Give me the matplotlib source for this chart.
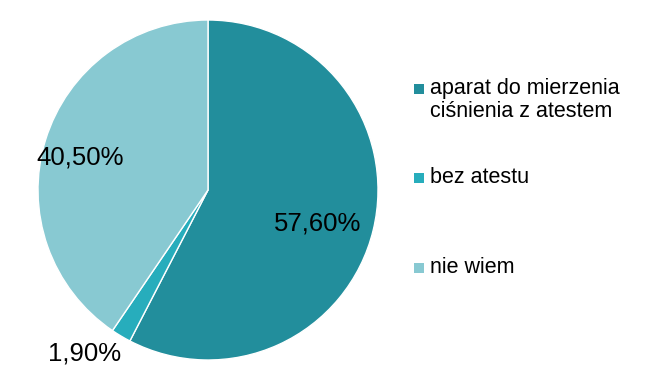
import matplotlib.pyplot as plt
from matplotlib.patches import Rectangle

plt.rcParams['font.family'] = ['Liberation Sans', 'DejaVu Sans']

# data
labels = ['aparat do mierzenia\nciśnienia z atestem', 'bez atestu', 'nie wiem']
values = [57.6, 1.9, 40.5]
pct_text = ['57,60%', '1,90%', '40,50%']
colors = ['#228E9C', '#27ADBC', '#88C9D2']

fig = plt.figure(figsize=(6.49, 3.90), dpi=100)
ax = fig.add_axes([38 / 649, 30 / 390, 340 / 649, 340 / 390])

wedges, _ = ax.pie(values, colors=colors, startangle=90, counterclock=False,
                   wedgeprops=dict(edgecolor='white', linewidth=1))
ax.set_xlim(-1, 1)
ax.set_ylim(-1, 1)
ax.set_aspect('equal')
ax.axis('off')

# percentage labels (positions in pixels of the figure)
lab_pos = [(318, 223), (85, 354), (80, 158)]
for (px, py), t in zip(lab_pos, pct_text):
    fig.text(px / 649, 1 - py / 390, t, fontsize=18.5, ha='center', va='center')

# legend drawn by hand
leg_y = [89, 178, 268]
for y, lab, c in zip(leg_y, labels, colors):
    fig.patches.append(Rectangle((414 / 649, 1 - (y + 5) / 390), 10 / 649, 10 / 390,
                                 transform=fig.transFigure, facecolor=c,
                                 edgecolor='none'))
    fig.text(430 / 649, 1 - (y - 11) / 390, lab, fontsize=15.5, ha='left', va='top',
             linespacing=1.1)

fig.savefig('out.png', dpi=100)
